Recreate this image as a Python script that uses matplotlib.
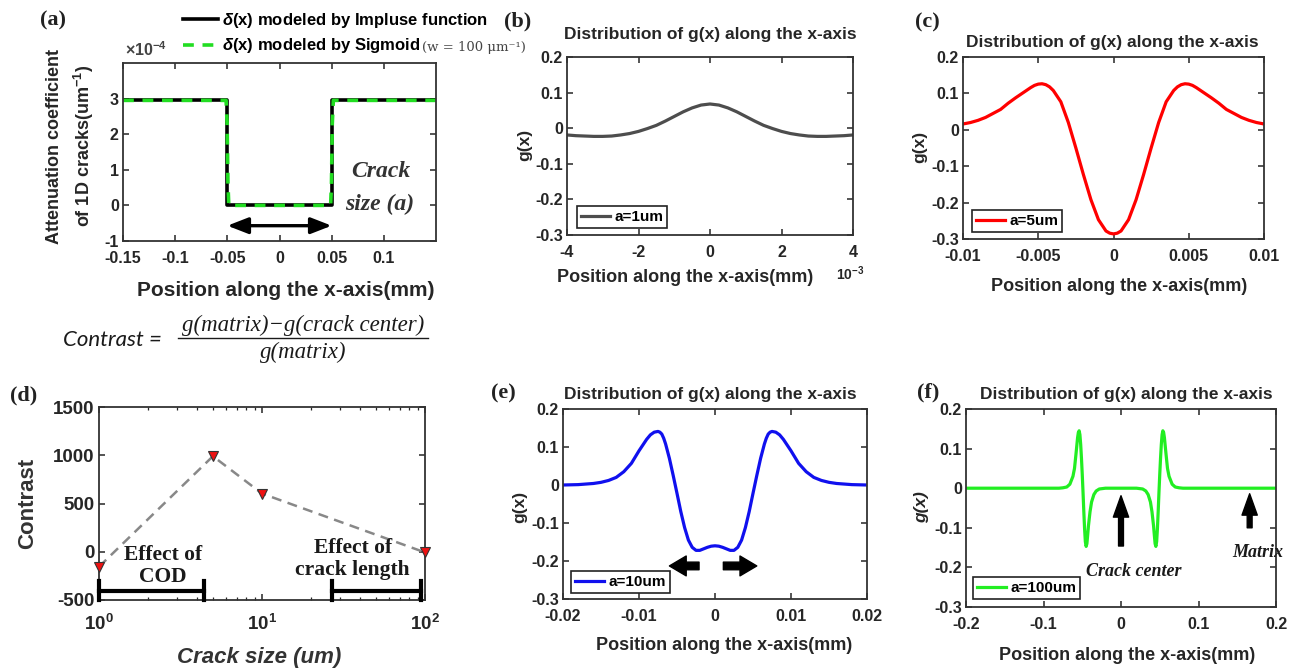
import numpy as np
import matplotlib
matplotlib.use("Agg")
import matplotlib.pyplot as plt
from matplotlib.lines import Line2D
from matplotlib.ticker import LogLocator, NullFormatter

plt.rcParams['font.family'] = ['Liberation Sans', 'DejaVu Sans']
plt.rcParams['font.weight'] = 'bold'
plt.rcParams['axes.unicode_minus'] = False
plt.rcParams['mathtext.fontset'] = 'custom'
plt.rcParams['mathtext.rm'] = 'Liberation Sans:bold'
plt.rcParams['mathtext.bf'] = 'Liberation Sans:bold'
plt.rcParams['mathtext.it'] = 'Liberation Sans:italic:bold'

# ---------------- data ----------------
# (a) attenuation coefficient (x1e-4 um^-1)
imp_x = [-0.15, -0.05, -0.05, 0.05, 0.05, 0.15]
imp_y = [2.95, 2.95, 0.0, 0.0, 2.95, 2.95]
sig_x = [-0.15, -0.0512, -0.0502, -0.0494, -0.0486, 0.0490, 0.0498, 0.0506, 0.0516, 0.15]
sig_y = [2.95, 2.95, 2.30, 0.60, 0.0, 0.0, 0.60, 2.30, 2.95, 2.95]

# (b) a = 1 um  (x in 1e-3 mm)
b_x = [-4.0, -3.75, -3.5, -3.25, -3.0, -2.75, -2.5, -2.25, -2.0, -1.75, -1.5, -1.25, -1.0,
       -0.75, -0.5, -0.25, 0.0, 0.25, 0.5, 0.75, 1.0, 1.25, 1.5, 1.75, 2.0, 2.25, 2.5,
       2.75, 3.0, 3.25, 3.5, 3.75, 4.0]
b_g = [-0.019, -0.021, -0.022, -0.023, -0.023, -0.022, -0.019, -0.015, -0.009, -0.001,
       0.008, 0.020, 0.033, 0.046, 0.057, 0.065, 0.068, 0.065, 0.057, 0.046, 0.033, 0.020,
       0.008, -0.001, -0.009, -0.015, -0.019, -0.022, -0.023, -0.023, -0.022, -0.021, -0.019]

# (c) a = 5 um
c_x = [-0.0100, -0.0095, -0.0090, -0.0085, -0.0080, -0.0075, -0.0070, -0.0065, -0.0060,
       -0.0055, -0.00525, -0.0050, -0.00475, -0.0045, -0.00425, -0.0040, -0.0035, -0.0030,
       -0.0025, -0.0020, -0.0015, -0.0010, -0.0005, -0.00025, 0.0, 0.00025, 0.0005, 0.0010,
       0.0015, 0.0020, 0.0025, 0.0030, 0.0035, 0.0040, 0.00425, 0.0045, 0.00475, 0.0050,
       0.00525, 0.0055, 0.0060, 0.0065, 0.0070, 0.0075, 0.0080, 0.0085, 0.0090, 0.0095,
       0.0100]
c_g = [0.016, 0.020, 0.026, 0.034, 0.045, 0.056, 0.073, 0.088, 0.102, 0.116, 0.122, 0.1255,
       0.1265, 0.124, 0.118, 0.108, 0.077, 0.020, -0.050, -0.123, -0.192, -0.247, -0.278,
       -0.284, -0.286, -0.284, -0.278, -0.247, -0.192, -0.123, -0.050, 0.020, 0.077, 0.108,
       0.118, 0.124, 0.1265, 0.1255, 0.122, 0.116, 0.102, 0.088, 0.073, 0.056, 0.045, 0.034,
       0.026, 0.020, 0.016]

# (d) contrast vs crack size
crack_size = [1, 5, 10, 100]
contrast = [-155, 990, 603, -7]

# (e) a = 10 um
e_x = [-0.020, -0.018, -0.016, -0.015, -0.014, -0.013, -0.012, -0.011, -0.010, -0.009,
       -0.0085, -0.008, -0.0075, -0.00725, -0.007, -0.00675, -0.0065, -0.006, -0.0055,
       -0.005, -0.0045, -0.004, -0.0035, -0.003, -0.0025, -0.002, -0.0015, -0.001, -0.0005,
       0.0, 0.0005, 0.001, 0.0015, 0.002, 0.0025, 0.003, 0.0035, 0.004, 0.0045, 0.005,
       0.0055, 0.006, 0.0065, 0.00675, 0.007, 0.00725, 0.0075, 0.008, 0.0085, 0.009, 0.010,
       0.011, 0.012, 0.013, 0.014, 0.015, 0.016, 0.018, 0.020]
e_g = [0.000, 0.001, 0.004, 0.007, 0.012, 0.020, 0.035, 0.057, 0.090, 0.120, 0.132, 0.139,
       0.141, 0.139, 0.134, 0.123, 0.108, 0.070, 0.025, -0.022, -0.070, -0.112, -0.145,
       -0.164, -0.172, -0.172, -0.168, -0.164, -0.161, -0.160, -0.161, -0.164, -0.168,
       -0.172, -0.172, -0.164, -0.145, -0.112, -0.070, -0.022, 0.025, 0.070, 0.108, 0.123,
       0.134, 0.139, 0.141, 0.139, 0.132, 0.120, 0.090, 0.057, 0.035, 0.020, 0.012, 0.007,
       0.004, 0.001, 0.000]

# (f) a = 100 um
f_x = [-0.200, -0.100, -0.080, -0.075, -0.070, -0.066, -0.062, -0.060, -0.058, -0.056,
       -0.055, -0.054, -0.053, -0.052, -0.051, -0.050, -0.049, -0.048, -0.047, -0.046,
       -0.045, -0.044, -0.043, -0.042, -0.040, -0.038, -0.035, -0.032, -0.028, -0.020,
       0.000, 0.020, 0.028, 0.032, 0.035, 0.038, 0.040, 0.042, 0.043, 0.044, 0.045, 0.046,
       0.047, 0.048, 0.049, 0.050, 0.051, 0.052, 0.053, 0.054, 0.055, 0.056, 0.058, 0.060,
       0.062, 0.066, 0.070, 0.075, 0.080, 0.100, 0.200]
f_g = [0.000, 0.000, 0.000, 0.001, 0.003, 0.010, 0.030, 0.050, 0.088, 0.128, 0.141, 0.145,
       0.135, 0.110, 0.075, 0.035, -0.010, -0.058, -0.102, -0.135, -0.147, -0.140, -0.118,
       -0.095, -0.060, -0.035, -0.016, -0.007, -0.002, 0.000, 0.000, 0.000, -0.002, -0.007,
       -0.016, -0.035, -0.060, -0.095, -0.118, -0.140, -0.147, -0.135, -0.102, -0.058,
       -0.010, 0.035, 0.075, 0.110, 0.135, 0.145, 0.141, 0.128, 0.088, 0.050, 0.030, 0.010,
       0.003, 0.001, 0.000, 0.000, 0.000]

g_yticks = [-0.3, -0.2, -0.1, 0, 0.1, 0.2]
TXT = '#262626'

# ---------------- layout helpers ----------------
W, H = 1301, 672
fig = plt.figure(figsize=(W / 100, H / 100), dpi=100)


def rect(x0, y0, x1, y1):
    return [x0 / W, 1 - y1 / H, (x1 - x0) / W, (y1 - y0) / H]


def fp(x, y):
    return (x / W, 1 - y / H)


def ftext(x, y, s, **kw):
    kw.setdefault('ha', 'center')
    kw.setdefault('va', 'center')
    kw.setdefault('color', TXT)
    return fig.text(*fp(x, y), s, **kw)


def style(ax, fs=11.5, xpad=7.5):
    for s in ax.spines.values():
        s.set_linewidth(1.3)
        s.set_color('#333333')
    ax.tick_params(direction='in', which='major', top=True, right=True, labelsize=fs,
                   colors=TXT, length=4.5, width=1.1, pad=3)
    ax.tick_params(direction='in', which='minor', top=True, right=True, length=2.5,
                   width=0.9, colors=TXT)
    ax.tick_params(axis='x', which='major', pad=xpad)


def fmt_labels(vals):
    return ['%g' % v for v in vals]


def gleg(ax, fx, fy):
    lg = ax.legend(loc='lower left', bbox_to_anchor=(fx, fy), borderaxespad=0,
                   fancybox=False, edgecolor='#222222', framealpha=1, fontsize=11,
                   handlelength=1.9, handletextpad=0.3, borderpad=0.25)
    lg.get_frame().set_linewidth(1.2)


def panel_label(x, y, s):
    ftext(x, y, s, fontsize=16, family='Liberation Serif', weight='bold', color='#222222')


# ---------------- (a) ----------------
axa = fig.add_axes(rect(123, 63, 436, 241))
axa.plot(imp_x, imp_y, color='black', lw=2.6, label=r'$\delta$(x) modeled by Impluse function')
axa.plot(sig_x, sig_y, color='#22dd22', lw=2.6, ls=(0, (3, 2.4)),
         label=r'$\delta$(x) modeled by Sigmoid')
axa.set_xlim(-0.15, 0.15)
axa.set_ylim(-1, 4)
xt = [-0.15, -0.1, -0.05, 0, 0.05, 0.1]
axa.set_xticks(xt)
axa.set_xticklabels(fmt_labels(xt))
yt = [-1, 0, 1, 2, 3]
axa.set_yticks(yt)
axa.set_yticklabels(fmt_labels(yt))
style(axa)
axa.annotate('', xy=(0.05, -0.57), xytext=(-0.05, -0.57),
             arrowprops=dict(arrowstyle='<|-|>,head_width=0.35,head_length=0.9', color='black',
                             lw=2.4, mutation_scale=14, shrinkA=0, shrinkB=0))
axa.text(0.097, 0.95, 'Crack', fontsize=17, family='Liberation Serif', style='italic',
         weight='bold', color='#333333', ha='center', va='center')
axa.text(0.096, 0.03, 'size (a)', fontsize=17, family='Liberation Serif', style='italic',
         weight='bold', color='#333333', ha='center', va='center')
axa.legend(loc='upper left', bbox_to_anchor=fp(183, 11), bbox_transform=fig.transFigure,
           frameon=False, fontsize=12, handlelength=2.1, handletextpad=0.25,
           labelspacing=0.38, borderpad=0, borderaxespad=0)
ftext(422, 47, r'(w = 100 μm⁻¹)', fontsize=9.5, family=['DejaVu Serif'], weight='normal',
      ha='left', color='#444444')
ftext(125, 50, r'×10$^{-4}$', fontsize=11.5, ha='left', color='#444444')
ftext(286, 291, 'Position along the x-axis(mm)', fontsize=15)
ftext(71, 146, 'Attenuation coefficient\nof 1D cracks(um$^{-1}$)', fontsize=13, rotation=90,
      linespacing=1.45)
panel_label(53, 20, '(a)')

# Contrast formula
ftext(63, 340, 'Contrast =', fontsize=16, family='Lato', style='italic', weight='normal',
      ha='left', color='#1a1a1a')
ftext(303, 325, 'g(matrix)−g(crack center)', fontsize=16.5, family='Liberation Serif',
      style='italic', weight='normal', color='#1a1a1a')
ftext(303, 352, 'g(matrix)', fontsize=16.5, family='Liberation Serif', style='italic',
      weight='normal', color='#1a1a1a')
fig.add_artist(Line2D([178 / W, 428 / W], [1 - 338 / H, 1 - 338 / H], color='#1a1a1a', lw=1.0))

# ---------------- (b) ----------------
axb = fig.add_axes(rect(567, 57, 853, 235))
axb.plot(b_x, b_g, color='#4d4d4d', lw=2.3, label='a=1um')
axb.set_xlim(-4, 4)
axb.set_ylim(-0.3, 0.2)
bxt = [-4, -2, 0, 2, 4]
axb.set_xticks(bxt)
axb.set_xticklabels(fmt_labels(bxt))
axb.set_yticks(g_yticks)
axb.set_yticklabels(fmt_labels(g_yticks))
style(axb)
gleg(axb, 0.035, 0.039)
ftext(710, 35, 'Distribution of g(x) along the x-axis', fontsize=12.5)
ftext(685, 277, 'Position along the x-axis(mm)', fontsize=13)
ftext(836, 274, r'10$^{-3}$', fontsize=10, ha='left')
ftext(525, 145, 'g(x)', fontsize=12.5, rotation=90)
panel_label(518, 21, '(b)')

# ---------------- (c) ----------------
axc = fig.add_axes(rect(963, 57, 1264, 239))
axc.plot(c_x, c_g, color='#ff0000', lw=2.3, label='a=5um')
axc.set_xlim(-0.01, 0.01)
axc.set_ylim(-0.3, 0.2)
cxt = [-0.01, -0.005, 0, 0.005, 0.01]
axc.set_xticks(cxt)
axc.set_xticklabels(fmt_labels(cxt))
axc.set_yticks(g_yticks)
axc.set_yticklabels(fmt_labels(g_yticks))
style(axc)
gleg(axc, 0.03, 0.038)
ftext(1112, 43, 'Distribution of g(x) along the x-axis', fontsize=12.5)
ftext(1119, 287, 'Position along the x-axis(mm)', fontsize=13)
ftext(920, 147, 'g(x)', fontsize=12.5, rotation=90)
panel_label(927, 22, '(c)')

# ---------------- (d) ----------------
axd = fig.add_axes(rect(99, 407, 425, 600))
axd.plot(crack_size, contrast, color='#888888', lw=1.8, ls=(0, (4, 2.6)), zorder=2)
axd.plot(crack_size, contrast, ls='none', marker='v', ms=7, mfc='#ee1111', mec='#333333',
         mew=0.8, zorder=3, clip_on=False)
axd.set_xscale('log')
axd.set_xlim(1, 100)
axd.set_ylim(-500, 1500)
axd.set_xticks([1, 10, 100])
axd.set_xticklabels([r'10$^{0}$', r'10$^{1}$', r'10$^{2}$'])
axd.xaxis.set_minor_locator(LogLocator(base=10, subs=np.arange(2, 10)))
axd.xaxis.set_minor_formatter(NullFormatter())
dyt = [-500, 0, 500, 1000, 1500]
axd.set_yticks(dyt)
axd.set_yticklabels(fmt_labels(dyt))
style(axd, fs=13.5, xpad=10)
# range bars
for (xa, xb) in [(1.0, 4.4), (27.0, 95.0)]:
    axd.plot([xa, xb], [-410, -410], color='black', lw=3, clip_on=False, zorder=4)
    axd.plot([xa, xa], [-300, -500], color='black', lw=3, clip_on=False, zorder=4)
    axd.plot([xb, xb], [-300, -500], color='black', lw=3, clip_on=False, zorder=4)
axd.text(2.47, -150, 'Effect of\nCOD', fontsize=15.5, family='Liberation Serif', weight='bold',
         color='#1a1a1a', ha='center', va='center', linespacing=1.1)
axd.text(36, -75, 'Effect of\ncrack length', fontsize=15.5, family='Liberation Serif',
         weight='bold', color='#1a1a1a', ha='center', va='center', linespacing=1.1)
ftext(259, 657, 'Crack size (um)', fontsize=16, style='italic', color='#333333')
ftext(28, 503, 'Contrast', fontsize=16, rotation=90, color='#333333')
panel_label(24, 395, '(d)')

# ---------------- (e) ----------------
axe = fig.add_axes(rect(563, 409, 867, 599))
axe.plot(e_x, e_g, color='#1010ee', lw=2.3, label='a=10um')
axe.set_xlim(-0.02, 0.02)
axe.set_ylim(-0.3, 0.2)
ext = [-0.02, -0.01, 0, 0.01, 0.02]
axe.set_xticks(ext)
axe.set_xticklabels(fmt_labels(ext))
axe.set_yticks(g_yticks)
axe.set_yticklabels(fmt_labels(g_yticks))
style(axe)
gleg(axe, 0.026, 0.032)
arr = dict(arrowstyle='simple,head_width=1.3,head_length=1.1,tail_width=0.5',
           color='black', mutation_scale=11, shrinkA=0, shrinkB=0)
axe.annotate('', xy=(-0.0060, -0.213), xytext=(-0.0021, -0.213), arrowprops=arr)
axe.annotate('', xy=(0.0055, -0.213), xytext=(0.0011, -0.213), arrowprops=arr)
ftext(710, 395, 'Distribution of g(x) along the x-axis', fontsize=12.5)
ftext(724, 645, 'Position along the x-axis(mm)', fontsize=13)
ftext(520, 507, 'g(x)', fontsize=12.5, rotation=90)
panel_label(503, 393, '(e)')

# ---------------- (f) ----------------
axf = fig.add_axes(rect(966, 409, 1276, 607))
axf.plot(f_x, f_g, color='#22ee22', lw=2.3, label='a=100um')
axf.set_xlim(-0.2, 0.2)
axf.set_ylim(-0.3, 0.2)
fxt = [-0.2, -0.1, 0, 0.1, 0.2]
axf.set_xticks(fxt)
axf.set_xticklabels(fmt_labels(fxt))
axf.set_yticks(g_yticks)
axf.set_yticklabels(fmt_labels(g_yticks))
style(axf)
gleg(axf, 0.023, 0.04)
arr2 = dict(arrowstyle='simple,head_width=1.0,head_length=1.4,tail_width=0.32',
            color='black', mutation_scale=11, shrinkA=0, shrinkB=0)
axf.annotate('', xy=(0.0, -0.019), xytext=(0.0, -0.146), arrowprops=arr2)
axf.annotate('', xy=(0.166, -0.014), xytext=(0.166, -0.100), arrowprops=arr2)
axf.text(0.017, -0.21, 'Crack center', fontsize=13, family='Liberation Serif', style='italic',
         weight='bold', color='#1a1a1a', ha='center', va='center')
axf.text(0.177, -0.163, 'Matrix', fontsize=13, family='Liberation Serif', style='italic',
         weight='bold', color='#1a1a1a', ha='center', va='center', clip_on=False)
ftext(1126, 395, 'Distribution of g(x) along the x-axis', fontsize=12.5)
ftext(1127, 655, 'Position along the x-axis(mm)', fontsize=13)
ftext(922, 507, 'g(x)', fontsize=12.5, rotation=90, style='italic')
panel_label(928, 392, '(f)')

fig.savefig('out.png', dpi=100)
